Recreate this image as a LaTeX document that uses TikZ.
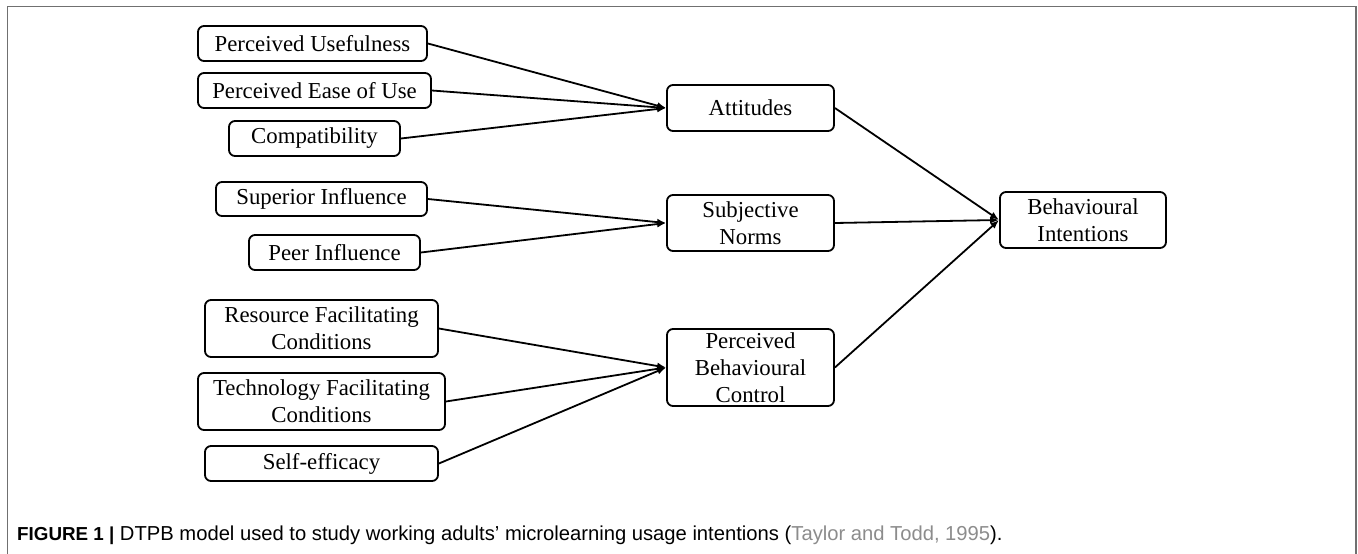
\documentclass[tikz,border=0pt]{standalone}
\usepackage{fontspec}
\setmainfont{Liberation Serif}
\newfontfamily\capfont{Liberation Sans}
\usetikzlibrary{arrows.meta}
\definecolor{framegray}{HTML}{707070}
\definecolor{citegray}{HTML}{8C8C8C}
\tikzset{
  box/.style={draw=black, line width=1.8pt, rounded corners=6pt, inner sep=0pt,
    align=center, font=\fontsize{22.8}{27}\selectfont},
  conn/.style={line width=1.8pt, -{Latex[length=9pt,width=7pt]}},
}
\begin{document}
\begin{tikzpicture}[x=1pt,y=-1pt]
\useasboundingbox (0,0) rectangle (1358,554);
\draw[framegray, line width=1.6pt] (7.5,554) -- (7.5,6.5) -- (1356,6.5) -- (1356,554);

\node[box, minimum width=229pt, minimum height=35pt] (pu) at (312.5,43.5) {Perceived Usefulness};
\node[box, minimum width=233pt, minimum height=35pt] (peou) at (314.5,90.5) {Perceived Ease of Use};
\node[box, minimum width=171pt, minimum height=35pt] (comp) at (314.5,138.5) {Compatibility};
\node[box, minimum width=211pt, minimum height=34pt] (si) at (321.5,199) {Superior Influence};
\node[box, minimum width=171pt, minimum height=35pt] (pi) at (334.5,252.5) {Peer Influence};
\node[box, minimum width=233pt, minimum height=57pt] (rfc) at (321.5,328.5) {Resource Facilitating\\Conditions};
\node[box, minimum width=247pt, minimum height=57pt] (tfc) at (321.5,401.5) {Technology Facilitating\\Conditions};
\node[box, minimum width=233pt, minimum height=35pt] (se) at (321.5,463.5) {Self-efficacy};

\node[box, minimum width=167pt, minimum height=46pt] (att) at (750.5,108) {Attitudes};
\node[box, minimum width=167pt, minimum height=56pt] (sn) at (750.5,223) {Subjective\\Norms};
\node[box, minimum width=167pt, minimum height=77pt] (pbc) at (750.5,367.5) {Perceived\\Behavioural\\Control};
\node[box, minimum width=166pt, minimum height=56pt] (bi) at (1083,220) {Behavioural\\Intentions};

\draw[conn] (pu.east) -- (att.west);
\draw[conn] (peou.east) -- (att.west);
\draw[conn] (comp.east) -- (att.west);
\draw[conn] (si.east) -- (sn.west);
\draw[conn] (pi.east) -- (sn.west);
\draw[conn] (rfc.east) -- (pbc.west);
\draw[conn] (tfc.east) -- (pbc.west);
\draw[conn] (se.east) -- (pbc.west);
\draw[conn] (att.east) -- (bi.west);
\draw[conn] (sn.east) -- (bi.west);
\draw[conn] (pbc.east) -- (bi.west);

\node[anchor=base west, inner sep=0pt, font=\capfont\fontsize{20.2}{22}\selectfont] (cap) at (17,540)
  {{\fontsize{18.8}{22}\selectfont\textbf{FIGURE 1 \textbar}} DTPB model used to study working adults’ microlearning usage intentions (\textcolor{citegray}{Taylor and Todd, 1995}).};
\end{tikzpicture}
\end{document}
